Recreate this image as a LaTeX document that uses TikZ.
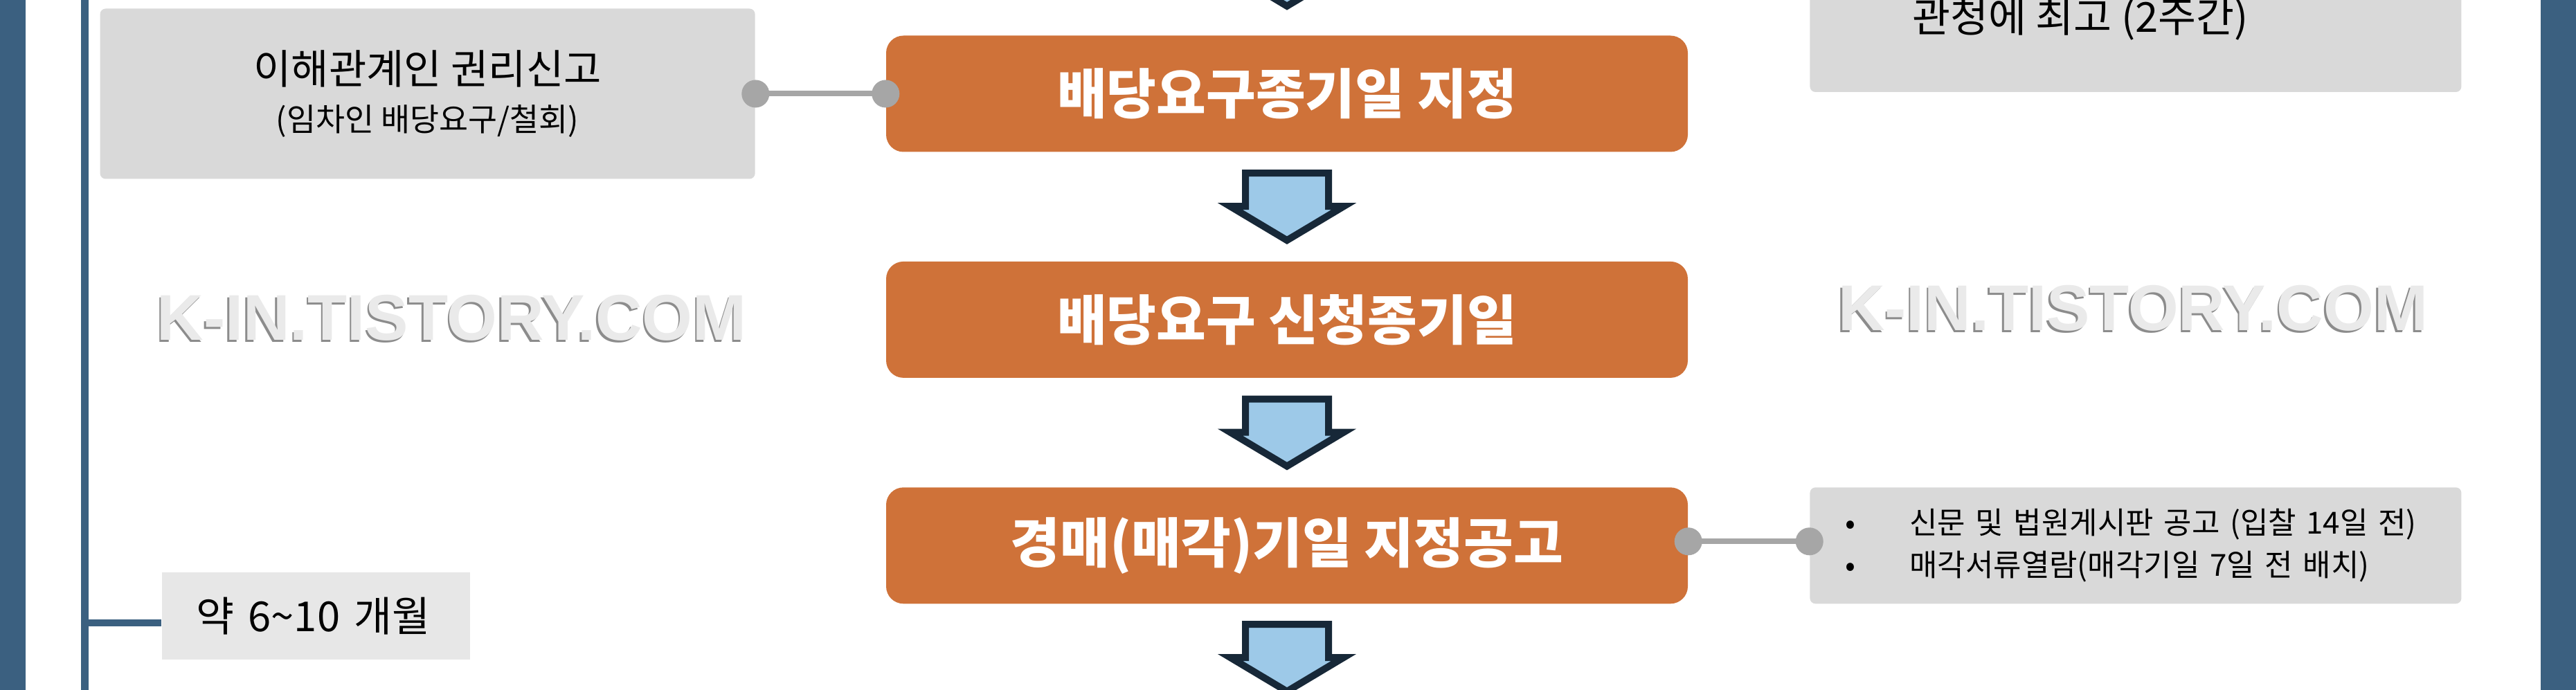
\documentclass[tikz,border=0pt]{standalone}
\usepackage{fontspec}
\setmainfont{Noto Sans CJK KR}
\newfontfamily\wmfont{Liberation Sans}
\usepackage{tikz}
\usetikzlibrary{positioning, arrows.meta}

\definecolor{barblue}{RGB}{59,96,128}
\definecolor{steporange}{RGB}{207,114,57}
\definecolor{notegray}{RGB}{217,217,217}
\definecolor{spangray}{RGB}{231,231,231}
\definecolor{linkgray}{RGB}{166,166,166}
\definecolor{arrowedge}{RGB}{23,40,56}
\definecolor{arrowfill}{RGB}{157,201,232}
\definecolor{wmlight}{RGB}{234,234,234}
\definecolor{wmdark}{RGB}{140,140,140}

\begin{document}
\begin{tikzpicture}[
        node distance=1.57cm and 1.88cm,
        stepbox/.style={rectangle, rounded corners=0.25cm, fill=steporange, text=white, font=\fontsize{22.2}{26}\selectfont\bfseries, minimum width=11.58cm, minimum height=1.68cm, inner sep=0pt},
        notebox/.style={rectangle, rounded corners=0.08cm, fill=notegray, inner sep=0pt},
        spanbox/.style={rectangle, fill=spangray, inner xsep=0.5cm, inner ysep=0pt, minimum height=1.26cm, text width=3.45cm, align=left, font=\fontsize{17}{20}\selectfont},
        flow/.style={draw=arrowedge, line width=0.1cm, fill=arrowfill},
        link/.style={arrows={Circle[length=0.4cm]-Circle[length=0.4cm]}, draw=linkgray, line width=0.08cm, shorten <=-0.2cm, shorten >=-0.2cm},
        spanline/.style={draw=barblue, line width=0.1cm},
        wmark/.style={font=\wmfont\bfseries\fontsize{26.6}{30}\selectfont, text=wmlight, anchor=base, inner sep=0pt},
        wmshade/.style={wmark, text=wmdark}
    ]
    % Canvas
    \useasboundingbox (0,0) rectangle (37.21,-9.97);
    \clip (0,0) rectangle (37.21,-9.97);
    \fill[white] (0,0) rectangle (37.21,-9.97);
    \fill[barblue] (0,0) rectangle (0.37,-9.97);
    \fill[barblue] (36.70,0) rectangle (37.21,-9.97);
    \coordinate (vtop) at (1.225,0);
    \coordinate (vbot) at (1.225,-9.97);
    \draw[barblue, line width=0.11cm] (vtop) -- (vbot);

    % Watermarks
    \node[wmshade] (wm1s) at (6.50,-4.95) {K-IN.TISTORY.COM};
    \node[wmark] (wm1) at (6.525,-4.92) {K-IN.TISTORY.COM};
    \node[wmshade] (wm2s) at (30.785,-4.81) {K-IN.TISTORY.COM};
    \node[wmark] (wm2) at (30.81,-4.78) {K-IN.TISTORY.COM};

    % Nodes
    \node[stepbox] (b1) at (18.59,-1.355) {배당요구종기일 지정};
    \node[stepbox, below=of b1] (b2) {배당요구 신청종기일};
    \node[stepbox, below=of b2] (b3) {경매(매각)기일 지정공고};

    \node[notebox, left=of b1, minimum width=9.46cm, minimum height=2.46cm, align=center] (g1) {{\fontsize{16.8}{20}\selectfont 이해관계인 권리신고}\\[6pt]{\fontsize{13}{15}\selectfont (임차인 배당요구/철회)}};
    \node[notebox, right=1.75cm of b1, yshift=1.255cm, minimum width=9.41cm, minimum height=2.46cm] (g0) {};
    \node[anchor=base west, font=\fontsize{17}{20}\selectfont, inner sep=0pt] (t0) at (27.62,-0.47) {관청에 최고 (2주간)};
    \node[notebox, right=1.75cm of b3, minimum width=9.41cm, minimum height=1.68cm, text width=8.39cm, align=left, font=\fontsize{12.5}{17.4}\selectfont] (g3) {\makebox[0.93cm][l]{•}신문 및 법원게시판 공고 (입찰 14일 전)\\\makebox[0.93cm][l]{•}매각서류열람(매각기일 7일 전 배치)};
    \node[spanbox, anchor=west] (g4) at (2.33,-8.90) {약 6\textasciitilde10 개월};

    % Flow arrows
    \draw[flow] ([shift={(-0.60,1.39)}]b1.north) -- ++(0,-0.48) -- ++(-0.22,0) -- ++(0.82,-0.49) -- ++(0.82,0.49) -- ++(-0.22,0) -- ++(0,0.48) -- cycle;
    \draw[flow] ([shift={(-0.60,-0.30)}]b1.south) -- ++(0,-0.48) -- ++(-0.22,0) -- ++(0.82,-0.49) -- ++(0.82,0.49) -- ++(-0.22,0) -- ++(0,0.48) -- cycle;
    \draw[flow] ([shift={(-0.60,-0.30)}]b2.south) -- ++(0,-0.48) -- ++(-0.22,0) -- ++(0.82,-0.49) -- ++(0.82,0.49) -- ++(-0.22,0) -- ++(0,0.48) -- cycle;
    \draw[flow] ([shift={(-0.60,-0.29)}]b3.south) -- ++(0,-0.48) -- ++(-0.22,0) -- ++(0.82,-0.49) -- ++(0.82,0.49) -- ++(-0.22,0) -- ++(0,0.48) -- cycle;

    % Links
    \draw[link] (g1.east) -- (b1.west);
    \draw[link] ([yshift=0.06cm]b3.east) -- ([yshift=0.06cm]b3.east -| g3.west);
    \draw[spanline] ([yshift=-0.1cm]g4.west) -- ([yshift=-0.1cm]g4.west -| vtop);
\end{tikzpicture}
\end{document}
